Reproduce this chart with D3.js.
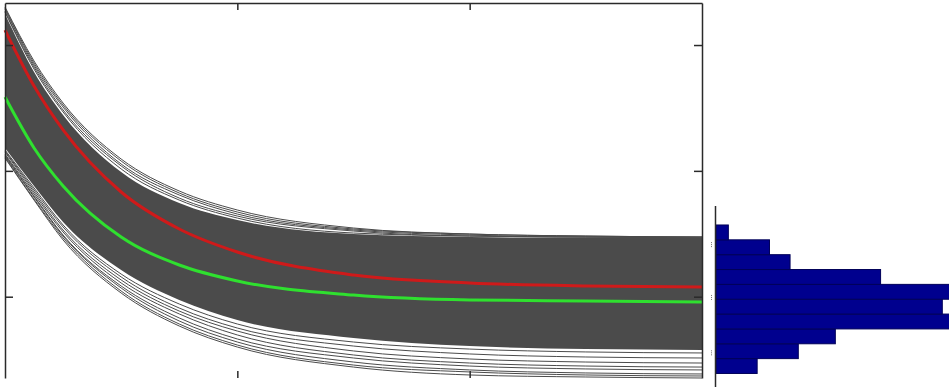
<!DOCTYPE html>
<html>
<head>
<meta charset="utf-8">
<script src="https://cdn.jsdelivr.net/npm/d3@7"></script>
<style>
  body { margin: 0; background: #fff; }
  svg { display: block; }
</style>
</head>
<body>
<div id="main"></div>
<script>
// sample times shared by every curve
var times = [0, 0.125, 0.25, 0.5, 0.75, 1, 1.5, 2, 2.5, 3];

// the two highlighted curves
var redCurve   = [3.119, 2.674, 2.325, 1.832, 1.538, 1.355, 1.172, 1.109, 1.085, 1.077];
var greenCurve = [2.587, 2.182, 1.880, 1.474, 1.252, 1.125, 1.013, 0.974, 0.966, 0.958];

// edges of the dense grey bundle
var bandTop    = [3.246, 2.786, 2.444, 1.991, 1.745, 1.610, 1.498, 1.474, 1.467, 1.467];
var bandBottom = [2.182, 1.880, 1.594, 1.212, 0.974, 0.815, 0.672, 0.608, 0.584, 0.577];

// loose grey curves above the bundle
var upperCurves = [
    [3.302, 2.873, 2.539, 2.094, 1.840, 1.689, 1.546, 1.498, 1.482, 1.474],
    [3.294, 2.857, 2.523, 2.078, 1.824, 1.673, 1.538, 1.498, 1.482, 1.474],
    [3.286, 2.841, 2.507, 2.054, 1.808, 1.657, 1.530, 1.490, 1.474, 1.474],
    [3.270, 2.825, 2.484, 2.039, 1.784, 1.641, 1.522, 1.482, 1.474, 1.467],
    [3.262, 2.809, 2.468, 2.015, 1.768, 1.625, 1.506, 1.482, 1.474, 1.467]
];

// loose grey curves below the bundle
var lowerCurves = [
    [2.102, 1.768, 1.451, 1.029, 0.767, 0.600, 0.441, 0.378, 0.362, 0.354],
    [2.110, 1.776, 1.467, 1.045, 0.783, 0.616, 0.457, 0.402, 0.378, 0.370],
    [2.118, 1.792, 1.482, 1.069, 0.807, 0.640, 0.481, 0.418, 0.394, 0.386],
    [2.126, 1.800, 1.490, 1.085, 0.831, 0.664, 0.513, 0.449, 0.426, 0.418],
    [2.134, 1.816, 1.514, 1.109, 0.863, 0.696, 0.537, 0.473, 0.449, 0.441],
    [2.150, 1.832, 1.530, 1.133, 0.886, 0.727, 0.569, 0.505, 0.481, 0.473],
    [2.158, 1.848, 1.554, 1.157, 0.910, 0.751, 0.608, 0.545, 0.521, 0.513],
    [2.166, 1.864, 1.570, 1.180, 0.942, 0.783, 0.640, 0.584, 0.561, 0.553]
];

// histogram of the final values (bins from bottom to top)
var histBinStart = [0.390, 0.508, 0.626, 0.744, 0.862, 0.980, 1.098, 1.216, 1.334, 1.452];
var histBinWidth = 0.118;
var histCounts   = [10, 20, 29, 58, 55, 62, 40, 18, 13, 3];
var histMarks    = [1.41, 0.99, 0.55];

// axis ticks (no labels shown)
var xTicks = [1, 2];
var yTicks = [1, 2, 3];

var width = 949, height = 387;

var svg = d3.select("#main").append("svg")
    .attr("width", width)
    .attr("height", height);

var x = d3.scaleLinear().domain([0, 3]).range([5, 702]);
var y = d3.scaleLinear().domain([0.354, 3.334]).range([378, 3]);
var xh = d3.scaleLinear().domain([0, 55]).range([716, 942.3]);

var line = d3.line()
    .x(function(d) { return x(d[0]); })
    .y(function(d) { return y(d[1]); })
    .curve(d3.curveMonotoneX);

function pairs(vals) {
    return vals.map(function(v, i) { return [times[i], v]; });
}

var plot = svg.append("g");

// dense bundle
var area = d3.area()
    .x(function(d, i) { return x(times[i]); })
    .y0(function(d, i) { return y(bandBottom[i]); })
    .y1(function(d, i) { return y(bandTop[i]); })
    .curve(d3.curveMonotoneX);

plot.append("path")
    .attr("d", area(times))
    .attr("fill", "#4b4b4b");

// loose curves
plot.selectAll("path.loose")
    .data(upperCurves.concat(lowerCurves))
    .enter()
    .append("path")
    .attr("class", "loose")
    .attr("d", function(d) { return line(pairs(d)); })
    .attr("fill", "none")
    .attr("stroke", "#4b4b4b")
    .attr("stroke-width", 1);

plot.append("path")
    .attr("d", line(pairs(greenCurve)))
    .attr("fill", "none")
    .attr("stroke", "#2fe02f")
    .attr("stroke-width", 3);

plot.append("path")
    .attr("d", line(pairs(redCurve)))
    .attr("fill", "none")
    .attr("stroke", "#cf1a1a")
    .attr("stroke-width", 3);

// axes box, ticks pointing inward
function styleAxis(g) {
    g.selectAll("path, line").attr("stroke", "#2a2a2a").attr("stroke-width", 1.5);
}

svg.append("g")
    .attr("transform", "translate(5,0)")
    .call(d3.axisLeft(y).tickValues(yTicks).tickSizeInner(-8).tickSizeOuter(0).tickFormat(""))
    .call(styleAxis);

svg.append("g")
    .attr("transform", "translate(702,0)")
    .call(d3.axisRight(y).tickValues(yTicks).tickSizeInner(-8).tickSizeOuter(0).tickFormat(""))
    .call(styleAxis);

svg.append("g")
    .attr("transform", "translate(0,3)")
    .call(d3.axisTop(x).tickValues(xTicks).tickSizeInner(-7).tickSizeOuter(0).tickFormat(""))
    .call(styleAxis);

var bottomAxis = svg.append("g")
    .attr("transform", "translate(0,378)")
    .call(d3.axisBottom(x).tickValues(xTicks).tickSizeInner(-7).tickSizeOuter(0).tickFormat(""))
    .call(styleAxis);
bottomAxis.select(".domain").remove();

// histogram
var hist = svg.append("g");

hist.selectAll("rect")
    .data(histCounts)
    .enter()
    .append("rect")
    .attr("x", xh(0))
    .attr("y", function(d, i) { return y(histBinStart[i] + histBinWidth); })
    .attr("width", function(d) { return xh(d) - xh(0); })
    .attr("height", function(d, i) { return y(histBinStart[i]) - y(histBinStart[i] + histBinWidth); })
    .attr("fill", "#00008e")
    .attr("stroke", "#000058")
    .attr("stroke-width", 1);

hist.append("line")
    .attr("x1", 715.5).attr("x2", 715.5)
    .attr("y1", 206).attr("y2", height)
    .attr("stroke", "#2a2a2a")
    .attr("stroke-width", 1.5);

hist.selectAll("line.mark")
    .data(histMarks)
    .enter()
    .append("line")
    .attr("class", "mark")
    .attr("x1", 711.5).attr("x2", 711.5)
    .attr("y1", function(d) { return y(d) - 3; })
    .attr("y2", function(d) { return y(d) + 3; })
    .attr("stroke", "#777")
    .attr("stroke-width", 1)
    .attr("stroke-dasharray", "1,1");
</script>
</body>
</html>
